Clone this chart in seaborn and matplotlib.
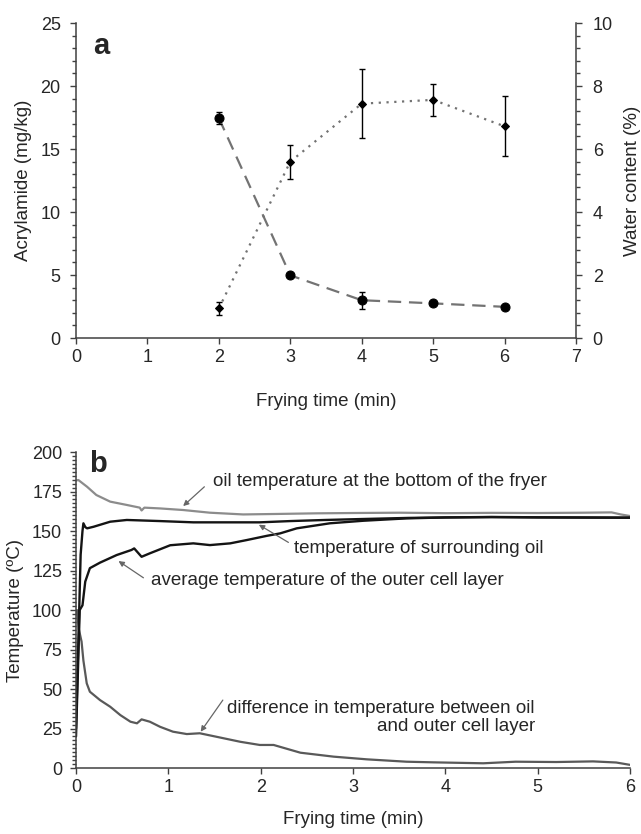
import numpy as np
import pandas as pd
import matplotlib
matplotlib.use("Agg")
import matplotlib.pyplot as plt
from matplotlib.ticker import MultipleLocator
import seaborn as sns

# Panel a: acrylamide and water content vs frying time
time_a = [2, 3, 4, 5, 6]
acrylamide = [2.35, 14.0, 18.6, 18.9, 16.8]
acrylamide_err = [0.52, 1.35, 2.73, 1.25, 2.37]
water = [6.98, 1.99, 1.2, 1.1, 0.99]
water_err = [0.18, 0.05, 0.27, 0.05, 0.05]

# Panel b: temperature curves
t_bottom = [0.0, 0.025, 0.12, 0.22, 0.37, 0.55, 0.69, 0.71, 0.74, 0.91, 1.16, 1.45, 1.81, 2.17,
            2.6, 3.0, 3.5, 4.0, 4.5, 5.0, 5.5, 5.8, 5.9, 6.0]
T_bottom = [182.0, 182.3, 178.0, 172.8, 168.6, 166.5, 164.8, 163.0, 164.8, 164.3, 163.3, 161.6,
            160.5, 160.8, 161.2, 161.4, 161.6, 161.3, 161.5, 161.4, 161.6, 161.8, 160.5, 159.5]

t_oil = [0.0, 0.03, 0.05, 0.07, 0.08, 0.1, 0.12, 0.19, 0.37, 0.55, 0.91, 1.27, 1.63, 1.99,
         2.32, 2.7, 3.1, 3.6, 4.0, 4.5, 5.0, 5.5, 6.0]
T_oil = [25.0, 90.0, 135.0, 150.0, 154.9, 152.5, 151.7, 152.7, 155.9, 157.0, 156.3, 155.5,
         155.5, 155.5, 156.3, 157.0, 157.6, 158.3, 158.6, 158.8, 158.6, 158.5, 158.5]

t_layer = [0.0, 0.02, 0.04, 0.07, 0.1, 0.15, 0.26, 0.44, 0.6, 0.63, 0.71, 0.8, 1.02, 1.27,
           1.45, 1.67, 1.85, 2.07, 2.21, 2.39, 2.75, 3.11, 3.58, 4.0, 4.5, 5.0, 5.5, 6.0]
T_layer = [20.0, 60.0, 100.0, 103.0, 118.0, 126.5, 130.0, 134.8, 138.0, 139.0, 133.7, 135.9,
           141.0, 142.2, 141.1, 142.2, 144.3, 147.0, 148.5, 151.7, 154.9, 156.5, 158.0, 158.6,
           158.9, 158.7, 158.6, 158.4]

t_diff = [0.01, 0.03, 0.06, 0.08, 0.116, 0.15, 0.26, 0.37, 0.48, 0.59, 0.66, 0.71, 0.8, 0.91,
          1.05, 1.2, 1.34, 1.52, 1.78, 1.99, 2.14, 2.43, 2.79, 3.15, 3.58, 3.87, 4.41, 4.76,
          5.2, 5.6, 5.85, 6.0]
T_diff = [100.0, 88.0, 80.0, 68.0, 53.6, 48.3, 43.0, 38.8, 33.5, 29.3, 28.3, 30.8, 29.3, 26.1,
          23.0, 21.5, 22.0, 19.8, 16.6, 14.6, 14.6, 9.7, 7.2, 5.5, 4.0, 3.6, 3.0, 4.0,
          3.8, 4.2, 3.5, 2.0]

sns.set_style("ticks")
plt.rcParams['font.family'] = ['Liberation Sans', 'DejaVu Sans']
plt.rcParams['font.size'] = 13

fig = plt.figure(figsize=(6.41, 8.34), dpi=100)
ax_a = fig.add_axes([0.1186, 0.5947, 0.78, 0.3777])
ax_w = ax_a.twinx()
ax_b = fig.add_axes([0.1186, 0.0791, 0.8643, 0.3789])

df_a = pd.DataFrame({"time": time_a, "acrylamide": acrylamide, "water": water})

# acrylamide (dotted, diamonds)
sns.lineplot(data=df_a, x="time", y="acrylamide", ax=ax_a, color="0.45", lw=1.6,
             linestyle=(0, (1, 2.5)), marker="D", markersize=4.5,
             markerfacecolor="black", markeredgecolor="black")
ax_a.errorbar(time_a, acrylamide, yerr=acrylamide_err, fmt="none", ecolor="black",
              elinewidth=1, capsize=2, capthick=1)

# water content (dashed, circles)
sns.lineplot(data=df_a, x="time", y="water", ax=ax_w, color="0.45", lw=1.6,
             linestyle=(0, (6, 3.5)), marker="o", markersize=6.5,
             markerfacecolor="black", markeredgecolor="black")
ax_w.errorbar(time_a, water, yerr=water_err, fmt="none", ecolor="black",
              elinewidth=1, capsize=2, capthick=1)

ax_a.set_xlim(0, 7)
ax_a.set_ylim(0, 25)
ax_w.set_ylim(0, 10)
ax_a.xaxis.set_major_locator(MultipleLocator(1))
ax_a.yaxis.set_major_locator(MultipleLocator(5))
ax_a.yaxis.set_minor_locator(MultipleLocator(1))
ax_w.yaxis.set_major_locator(MultipleLocator(2))
ax_w.yaxis.set_minor_locator(MultipleLocator(0.4))

ax_a.set_xlabel("Frying time (min)", fontsize=13.5, labelpad=19)
ax_a.set_ylabel("Acrylamide (mg/kg)", fontsize=13.5, labelpad=6)
ax_w.set_ylabel("Water content (%)", fontsize=13.5, labelpad=8)
ax_a.text(0.035, 0.97, "a", transform=ax_a.transAxes, fontsize=21, fontweight="bold",
          va="top", ha="left")

for ax in (ax_a, ax_w):
    ax.spines["top"].set_visible(False)
    for s in ax.spines.values():
        s.set_color("0.25")
        s.set_linewidth(1.1)
    ax.tick_params(which="major", length=4, width=1, color="0.25", labelsize=13)
    ax.tick_params(which="minor", length=3, width=1, color="0.25")
ax_a.tick_params(axis="y", pad=7)
ax_a.tick_params(axis="x", pad=4)
ax_w.tick_params(axis="y", pad=8)
ax_a.spines["right"].set_visible(False)
ax_w.spines["left"].set_visible(False)
ax_w.spines["bottom"].set_visible(False)

# Panel b
df_bottom = pd.DataFrame({"time": t_bottom, "T": T_bottom})
df_oil = pd.DataFrame({"time": t_oil, "T": T_oil})
df_layer = pd.DataFrame({"time": t_layer, "T": T_layer})
df_diff = pd.DataFrame({"time": t_diff, "T": T_diff})

sns.lineplot(data=df_bottom, x="time", y="T", ax=ax_b, color="0.55", lw=1.6)
sns.lineplot(data=df_diff, x="time", y="T", ax=ax_b, color="0.35", lw=1.6)
sns.lineplot(data=df_layer, x="time", y="T", ax=ax_b, color="0.08", lw=1.7)
sns.lineplot(data=df_oil, x="time", y="T", ax=ax_b, color="0.08", lw=1.7)

ax_b.set_xlim(0, 6)
ax_b.set_ylim(0, 200)
ax_b.xaxis.set_major_locator(MultipleLocator(1))
ax_b.yaxis.set_major_locator(MultipleLocator(25))
ax_b.yaxis.set_minor_locator(MultipleLocator(2.5))
ax_b.set_xlabel("Frying time (min)", fontsize=13.5, labelpad=11)
ax_b.set_ylabel("Temperature (\u00baC)", fontsize=13.5, labelpad=6)
ax_b.text(0.024, 1.005, "b", transform=ax_b.transAxes, fontsize=21, fontweight="bold",
          va="top", ha="left")
sns.despine(ax=ax_b)
for s in ax_b.spines.values():
    s.set_color("0.25")
    s.set_linewidth(1.1)
ax_b.tick_params(which="major", length=4, width=1, color="0.25", labelsize=13, pad=4)
ax_b.tick_params(axis="y", which="major", pad=6)
ax_b.tick_params(which="minor", length=3, width=1, color="0.25")

# curve labels
ax_b.text(1.48, 181.2, "oil temperature at the bottom of the fryer", fontsize=13.5,
          va="center", ha="left")
ax_b.text(2.36, 139.2, "temperature of surrounding oil", fontsize=13.5,
          va="center", ha="left")
ax_b.text(0.81, 118.4, "average temperature of the outer cell layer", fontsize=13.5,
          va="center", ha="left")
ax_b.text(4.97, 32.0, "difference in temperature between oil\nand outer cell layer",
          fontsize=13.5, va="center", ha="right", multialignment="right", linespacing=1.1)

# pointer arrows
arrow = dict(arrowstyle="-|>", color="0.4", lw=0.9, mutation_scale=8, shrinkA=0, shrinkB=0)
ax_b.annotate("", xy=(1.16, 165.8), xytext=(1.39, 178.0), arrowprops=arrow)
ax_b.annotate("", xy=(1.98, 154.0), xytext=(2.30, 142.8), arrowprops=arrow)
ax_b.annotate("", xy=(0.46, 131.0), xytext=(0.73, 120.4), arrowprops=arrow)
ax_b.annotate("", xy=(1.35, 23.0), xytext=(1.59, 43.0), arrowprops=arrow)

fig.savefig("out.png", dpi=100)
